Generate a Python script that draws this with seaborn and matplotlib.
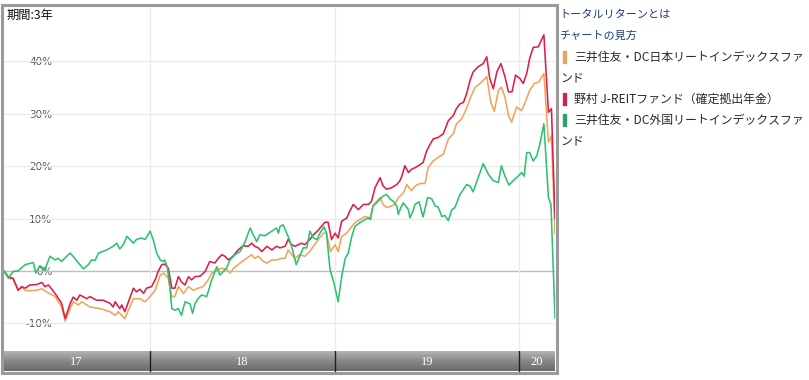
import numpy as np
import pandas as pd
import matplotlib
matplotlib.use("Agg")
import matplotlib.pyplot as plt
import seaborn as sns
from matplotlib.patches import Rectangle
from matplotlib.colors import LinearSegmentedColormap
import matplotlib.dates as mdates

# ---------------- data ----------------
start_date = "2017-03-18"
period_days = 1090

fund_names = ["三井住友・DC日本リートインデックスファンド",
              "野村 J-REITファンド（確定拠出年金）",
              "三井住友・DC外国リートインデックスファンド"]
legend_lines = [["三井住友・DC日本リートインデックスファ", "ンド"],
                ["野村 J-REITファンド（確定拠出年金）"],
                ["三井住友・DC外国リートインデックスファ", "ンド"]]
fund_colors = ["#f2a45a", "#dc1f45", "#2cc272"]
bar_colors = ["#e3a65c", "#c42a48", "#2aa56a"]

jp_days = [0,9,18,28,35,42,51,65,75,84,101,114,121,131,137,147,154,170,190,210,
           220,226,239,256,269,279,289,299,309,316,325,332,338,345,355,365,374,384,394,404,
           411,421,431,440,447,454,467,480,490,496,503,513,520,530,539,549,556,562,569,576,
           585,595,605,612,622,632,638,646,655,661,668,678,688,694,704,714,724,730,737,744,
           750,757,767,773,780,790,797,806,813,823,833,839,849,859,869,879,889,895,905,915,
           922,932,942,955,963,970,978,984,991,998,1004,1014,1024,1031,1040,1049,1058,1068,1077,1083,
           1090]
jp_vals = [0,-1.4,-1.6,-3.7,-3.1,-3.7,-3.8,-3.7,-3.4,-4.0,
           -4.9,-6.9,-9.6,-7.2,-5.9,-6.5,-5.9,-6.9,-7.2,-7.8,
           -8.5,-7.8,-9.1,-5.3,-5.3,-5.9,-4.9,-3.7,-0.8,-0.4,
           -1.4,-4.9,-4.9,-3.0,-4.3,-3.0,-3.7,-3.3,-3.0,-1.7,
           -0.4,0.2,0.5,0.3,-0.4,0.5,1.5,2.4,3.1,2.4,
           2.8,1.8,1.5,2.1,2.1,2.4,2.4,4.0,3.1,2.4,
           3.1,2.8,3.7,4.7,6.0,7.2,7.2,3.7,5.0,3.7,
           6.6,7.2,8.5,9.2,9.8,10.4,10.1,12.4,13.3,14.0,
           12.7,12.1,12.4,12.7,14.0,14.9,16.5,15.3,16.2,16.7,
           16.7,19.7,21.0,21.7,22.3,25.2,26.2,28.1,29.0,31.0,
           32.9,35.1,35.8,37.1,32.2,30.5,34.5,35.1,33.2,29.7,
           28.4,31.3,30.6,32.2,34.5,35.8,36.1,37.7,24.6,25.8,
           7.0]

nomura_days = [0,9,18,28,35,42,51,65,75,81,88,101,114,121,131,137,144,150,164,170,
               183,196,210,216,220,229,233,239,256,262,269,276,282,292,299,305,312,318,325,332,
               338,345,351,358,365,371,378,388,398,407,417,424,431,437,444,454,463,473,483,490,
               496,503,510,520,530,539,546,556,562,569,576,582,589,595,605,612,620,628,635,641,
               648,655,661,668,678,684,691,701,711,721,727,734,744,750,757,767,777,783,787,793,
               800,806,813,820,829,836,843,849,859,869,879,889,895,902,909,915,922,928,938,948,
               955,961,968,975,983,991,998,1005,1012,1021,1027,1034,1040,1047,1057,1068,1077,1083,1090]
nomura_vals = [0,-1.2,-1.4,-3.7,-3.0,-3.3,-2.7,-2.6,-2.2,-3.0,
               -2.7,-4.3,-6.2,-9.1,-6.2,-5.0,-5.6,-4.6,-5.3,-4.9,
               -5.6,-5.6,-6.2,-6.9,-5.9,-7.2,-6.5,-7.8,-3.3,-4.0,
               -3.5,-4.3,-3.3,-3.0,-1.7,-0.1,1.2,1.3,0.5,-3.3,
               -3.3,-1.1,-2.1,-2.7,-1.1,-1.7,-1.1,-1.0,-0.1,1.8,
               1.5,2.4,3.1,2.8,2.1,2.9,4.0,4.8,4.7,5.3,
               4.7,4.4,3.7,4.7,4.0,4.7,4.4,4.7,6.0,5.0,
               4.7,5.0,5.3,5.0,6.0,6.9,7.6,8.5,9.3,9.3,
               6.0,7.2,6.3,9.5,10.1,11.4,12.7,11.7,12.7,12.7,
               13.3,15.9,17.8,16.2,15.6,15.9,16.5,17.2,18.1,20.1,
               18.8,19.4,19.7,20.1,20.7,22.9,24.2,25.2,25.5,26.2,
               28.7,29.7,31.0,31.9,32.2,33.8,36.4,38.0,39.0,39.6,
               40.9,36.7,34.8,38.0,39.6,37.1,34.2,34.2,37.4,36.7,
               35.8,37.7,40.6,42.7,42.8,45.1,30.3,31.0,10.0]

gl_days = [0,9,18,28,42,58,63,71,81,91,101,107,114,124,131,140,150,157,167,173,
           180,187,203,216,223,229,236,243,249,256,262,272,279,283,289,295,302,309,315,318,
           323,328,332,338,345,351,358,368,373,378,384,391,401,411,421,427,434,440,447,457,
           467,477,487,493,500,506,516,530,539,543,546,552,562,569,578,585,592,599,605,612,
           619,625,633,638,645,653,661,668,675,681,688,694,704,714,721,725,730,737,744,750,
           757,764,770,777,780,785,790,800,803,810,813,821,829,838,846,853,859,866,872,879,
           886,892,902,909,915,922,928,938,948,958,968,978,984,991,999,1007,1017,1024,1029,1034,
           1040,1047,1054,1060,1068,1077,1082,1090]
gl_vals = [0,-1.4,-0.1,0,1.2,1.6,-0.4,1.0,0.3,2.8,
           2.1,2.4,1.8,2.8,3.4,2.4,1.2,0.4,1.2,2.1,
           2.0,3.4,4.0,4.7,5.3,4.2,5.0,6.6,6.0,5.3,
           6.0,6.3,6.0,6.6,7.6,6.0,3.4,2.1,1.8,2.1,
           0.7,-3.0,-7.2,-7.5,-7.2,-8.5,-5.9,-6.3,-8.1,-6.2,
           -5.3,-4.6,-4.9,-1.7,0.8,-0.8,-0.1,0.5,2.1,3.1,
           3.7,5.6,8.2,6.9,5.6,6.9,6.7,7.6,8.2,7.2,
           8.5,8.8,6.6,4.7,1.2,2.8,4.4,4.4,7.6,6.3,
           6.0,7.2,8.4,7.2,0.2,-2.4,-5.9,-1.1,2.4,3.4,
           6.6,8.5,9.2,9.8,10.1,9.8,12.4,13.0,13.7,14.3,
           14.6,13.7,13.3,12.4,10.8,12.1,13.0,11.7,10.1,11.7,
           12.7,13.2,10.3,14.0,13.8,12.4,12.2,10.4,10.6,9.6,
           11.7,12.1,14.6,15.6,16.5,16.2,15.1,17.8,20.5,18.5,
           17.2,16.9,20.1,18.1,16.4,17.2,18.1,18.8,18.1,22.6,
           22.6,21.0,22.0,24.2,28.1,14.0,12.7,-9.0]

year_labels = ["17", "18", "19", "20"]
year_starts = ["2018-01-01", "2019-01-01", "2020-01-01"]
y_ticks = [-10, 0, 10, 20, 30, 40]
y_tick_labels = ["-10%", "0%", "10%", "20%", "30%", "40%"]
period_label = "期間:3年"
link_texts = ["トータルリターンとは", "チャートの見方"]

# ---------------- build frame ----------------
start = pd.Timestamp(start_date)
frames = []
for name, d, v in zip(fund_names, [jp_days, nomura_days, gl_days],
                      [jp_vals, nomura_vals, gl_vals]):
    frames.append(pd.DataFrame({"date": start + pd.to_timedelta(d, unit="D"),
                                "value": v, "fund": name}))
df = pd.concat(frames, ignore_index=True)

sns.set_style("white")
plt.rcParams["font.family"] = ["Noto Sans CJK JP", "DejaVu Sans"]

W, H = 809, 380
fig = plt.figure(figsize=(W / 100, H / 100), dpi=100)
fig.patch.set_facecolor("white")

ax = fig.add_axes([3 / W, 1 - 351 / H, 552 / W, 345 / H])
ax.set_facecolor("white")
x0 = start - pd.Timedelta(days=2)
x1 = start + pd.Timedelta(days=period_days)
ax.set_xlim(x0, x1)
ax.set_ylim(-15.3, 50.6)

# grid
for yv in y_ticks:
    ax.axhline(yv, color="#bdbdbd" if yv == 0 else "#ebebeb", lw=1.0, zorder=1)
for ys in year_starts:
    ax.axvline(pd.Timestamp(ys), color="#ebebeb", lw=1.0, zorder=1)

sns.lineplot(data=df, x="date", y="value", hue="fund", hue_order=fund_names,
             palette=dict(zip(fund_names, fund_colors)), estimator=None,
             linewidth=1.15, legend=False, ax=ax, zorder=3)

ax.set_xlabel("")
ax.set_ylabel("")
ax.set_xticks([])
ax.set_yticks(y_ticks)
ax.set_yticklabels(y_tick_labels, fontfamily="DejaVu Sans")
ax.tick_params(axis="y", length=0, pad=-35.5, labelsize=7.5, labelcolor="#555555")
for s in ax.spines.values():
    s.set_visible(False)

ax.text(4 / 552, 1 - 9 / 345, period_label, transform=ax.transAxes,
        fontsize=8.8, color="#111111", va="center", ha="left")

# bottom time bar
bax = fig.add_axes([3 / W, 1 - 371.5 / H, 552 / W, 20.5 / H])
cmap = LinearSegmentedColormap.from_list("bar", ["#b9b9b9", "#8a8a8a", "#6a6a6a"])
grad = np.linspace(0, 1, 64).reshape(-1, 1)
xn0, xn1 = mdates.date2num(x0), mdates.date2num(x1)
bax.imshow(grad, aspect="auto", cmap=cmap, extent=[xn0, xn1, 1, 0])
bax.set_xlim(xn0, xn1)
bax.set_ylim(1, 0)
bax.axis("off")
edges = [xn0] + [mdates.date2num(pd.Timestamp(y)) for y in year_starts] + [xn1]
for e in edges[1:-1]:
    bax.axvline(e, color="#1e1e1e", lw=1.0)
for lab, a, b in zip(year_labels, edges[:-1], edges[1:]):
    bax.text((a + b) / 2, 0.52, lab, color="white", ha="center", va="center",
             fontsize=9, fontfamily="Liberation Serif")

# outer frame
fig.patches.append(Rectangle((1.5 / W, 1 - 373 / H), 555 / W, 368.5 / H,
                             transform=fig.transFigure, fill=False,
                             edgecolor="#9a9a9a", linewidth=2.2))

# right side texts
ypos = 15
for t in link_texts:
    fig.text(559 / W, 1 - ypos / H, t, fontsize=8.0, color="#1f3f73",
             va="center", ha="left")
    ypos += 21
for lines, bc in zip(legend_lines, bar_colors):
    fig.patches.append(Rectangle((563 / W, 1 - (ypos + 6) / H), 2.5 / W, 12 / H,
                                 transform=fig.transFigure, color=bc))
    for i, ln in enumerate(lines):
        fig.text((574 if i == 0 else 560) / W, 1 - ypos / H, ln, fontsize=8.6,
                 color="#2a2a2a", va="center", ha="left")
        ypos += 21

fig.savefig("out.png", dpi=100, facecolor="white")
